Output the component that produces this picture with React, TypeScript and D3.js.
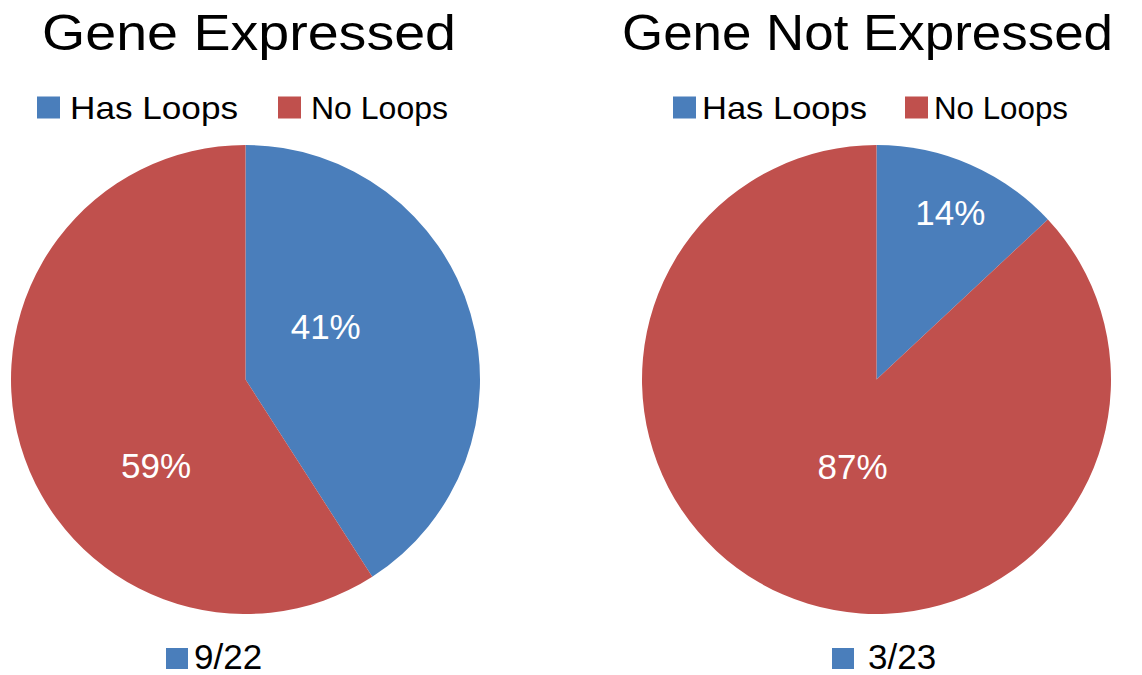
import React from "react";
import * as d3 from "d3";

const categories = ["Has Loops", "No Loops"];
const titles = ["Gene Expressed", "Gene Not Expressed"];
const expressedValues = [9, 13];
const notExpressedValues = [3, 20];
const expressedLabels = ["41%", "59%"];
const notExpressedLabels = ["14%", "87%"];
const footnotes = ["9/22", "3/23"];

const COLORS = ["#4A7EBB", "#C0504D"];
const FONT = "'Liberation Sans', Arial, sans-serif";

// layout / style config (not data)
const panels = [
  {
    cx: 245.5,
    titleDx: 3.5,
    titleLen: 414,
    legendX: 37,
    legendGap: 10,
    legendSep: 40,
    legendLen: [168, 137],
    values: expressedValues,
    labels: expressedLabels,
    labelPos: [
      { frac: 0.384, r: 0.41 },
      { frac: 0.37, r: 0.53 },
    ],
    footX: 166,
    footTextX: 194,
  },
  {
    cx: 876.5,
    titleDx: -9,
    titleLen: 491,
    legendX: 673,
    legendGap: 6,
    legendSep: 38,
    legendLen: [165, 134],
    values: notExpressedValues,
    labels: notExpressedLabels,
    labelPos: [
      { frac: 0.507, r: 0.78 },
      { frac: 0.474, r: 0.385 },
    ],
    footX: 832,
    footTextX: 868,
  },
];

const W = 1142;
const H = 675;
const CY = 379.5;
const R = 234.5;

export default function App() {
  const pie = d3
    .pie<number>()
    .sort(null)
    .value((d) => d)
    .startAngle(0)
    .endAngle(2 * Math.PI);
  const arc = d3.arc<d3.PieArcDatum<number>>().innerRadius(0).outerRadius(R);

  const sq = 23;

  return (
    <svg
      width={W}
      height={H}
      style={{ position: "absolute", left: 0, top: 0, background: "#fff" }}
      fontFamily={FONT}
    >
      {panels.map((p, pi) => {
        const arcs = pie(p.values);
        const legendItems: { x: number }[] = [];
        let lx = p.legendX;
        categories.forEach((_, i) => {
          legendItems.push({ x: lx });
          lx += sq + p.legendGap + p.legendLen[i] + p.legendSep;
        });
        return (
          <g key={pi}>
            <text
              x={p.cx + p.titleDx}
              y={50}
              textAnchor="middle"
              fontSize={50}
              fill="#000"
              textLength={p.titleLen}
              lengthAdjust="spacingAndGlyphs"
            >
              {titles[pi]}
            </text>
            {legendItems.map((it, i) => (
              <g key={i}>
                <rect x={it.x} y={96.5} width={sq} height={22} fill={COLORS[i]} />
                <text
                  x={it.x + sq + p.legendGap}
                  y={119}
                  fontSize={32}
                  fill="#000"
                  textLength={p.legendLen[i]}
                  lengthAdjust="spacingAndGlyphs"
                >
                  {categories[i]}
                </text>
              </g>
            ))}
            <g transform={`translate(${p.cx},${CY})`}>
              {arcs.map((a, i) => (
                <path key={i} d={arc(a) || ""} fill={COLORS[i]} />
              ))}
              {arcs.map((a, i) => {
                const lp = p.labelPos[i];
                const ang = a.startAngle + (a.endAngle - a.startAngle) * lp.frac;
                const rr = R * lp.r;
                const x = Math.sin(ang) * rr;
                const y = -Math.cos(ang) * rr;
                return (
                  <text
                    key={i}
                    x={x}
                    y={y}
                    textAnchor="middle"
                    dominantBaseline="central"
                    fontSize={35}
                    fill="#fff"
                  >
                    {p.labels[i]}
                  </text>
                );
              })}
            </g>
            <rect x={p.footX} y={648} width={22} height={21} fill={COLORS[0]} />
            <text x={p.footTextX} y={669} fontSize={35} fill="#000">
              {footnotes[pi]}
            </text>
          </g>
        );
      })}
    </svg>
  );
}
